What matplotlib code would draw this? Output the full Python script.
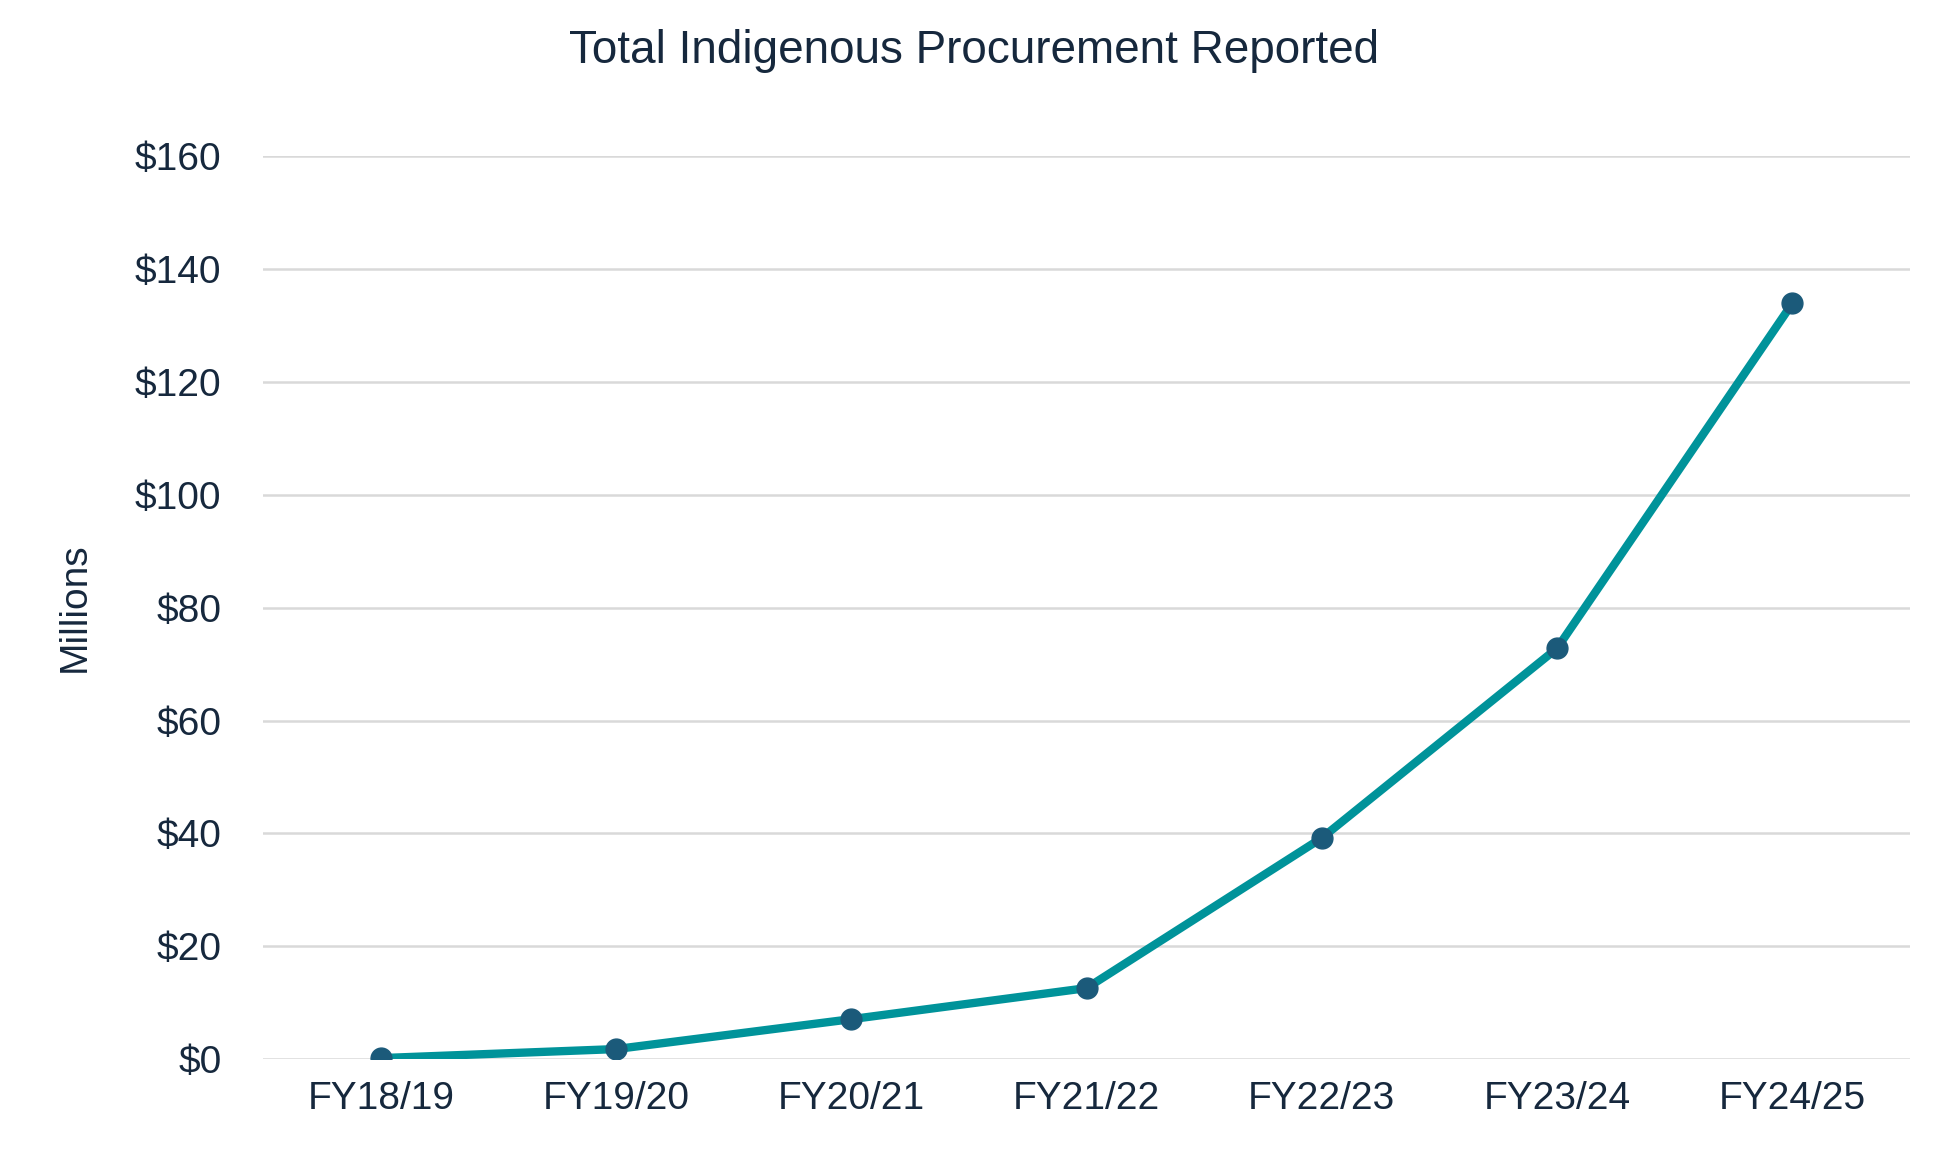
import matplotlib
matplotlib.use("Agg")
import matplotlib.pyplot as plt

plt.rcParams["font.family"] = "Liberation Sans"

categories = ["FY18/19", "FY19/20", "FY20/21", "FY21/22", "FY22/23", "FY23/24", "FY24/25"]
values = [0.2, 1.8, 7.1, 12.6, 39.2, 72.8, 133.9]
yticks = [0, 20, 40, 60, 80, 100, 120, 140, 160]

txt = "#16283d"
fig = plt.figure(figsize=(19.49, 11.64), dpi=100)
ax = fig.add_axes([0.135, 0.09, 0.845, 0.776])
x = list(range(len(categories)))
ax.plot(x, values, color="#00939a", lw=6, zorder=3)
ax.plot(x, values, "o", color="#1b5a7a", ms=15, zorder=4)
ax.set_xlim(-0.5, 6.5)
ax.set_ylim(0, 160)
ax.set_yticks(yticks)
ax.set_yticklabels([f"${v}" for v in yticks])
ax.set_xticks(x)
ax.set_xticklabels(categories)
ax.grid(axis="y", color="#d9d9d9", lw=1.8)
ax.set_axisbelow(True)
for s in ax.spines.values():
    s.set_visible(False)
ax.tick_params(length=0, labelsize=28, labelcolor=txt, pad=16)
ax.tick_params(axis="y", pad=30)
ax.set_ylabel("Millions", fontsize=28, color=txt, labelpad=30)
fig.suptitle("Total Indigenous Procurement Reported", fontsize=33, color=txt, y=0.975)
fig.savefig("out.png", dpi=100)
